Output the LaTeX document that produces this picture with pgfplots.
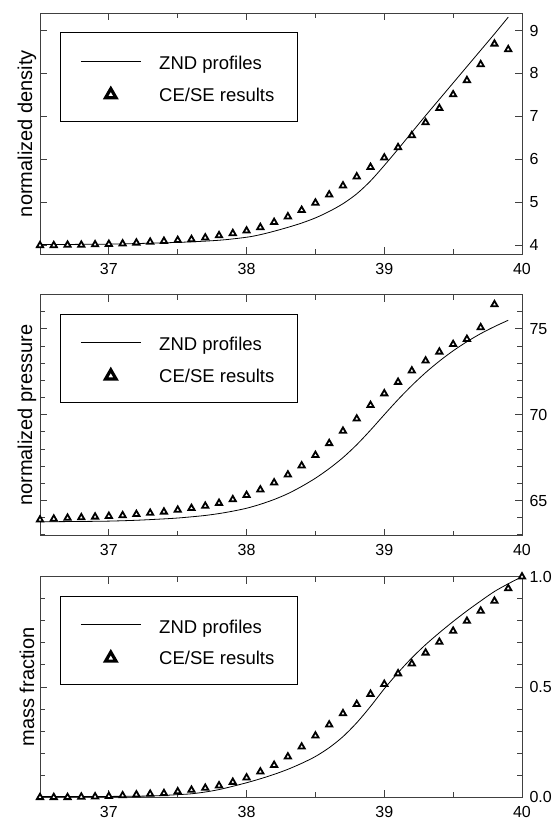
\documentclass[border=0pt]{standalone}
\usepackage{fontspec}
\setmainfont{Liberation Sans}
\usepackage{pgfplots}
\pgfplotsset{compat=1.18}

% shared look of the three stacked panels
\pgfplotsset{
  panel/.style={
    scale only axis, width=482pt, anchor=north west,
    xmin=36.5, xmax=40,
    xtick={37,38,39,40}, minor xtick={37.5,38.5,39.5},
    yticklabel pos=right, ytick pos=both, xtick pos=both,
    tick align=inside,
    major tick length=7pt, minor tick length=5pt,
    axis line style={black!75, line width=0.9pt},
    every tick/.style={black!75, line width=0.9pt},
    tick label style={font=\fontsize{16}{18}\selectfont},
    /pgf/number format/assume math mode=true,
    xticklabel style={yshift=-5.5pt},
    yticklabel style={xshift=4pt},
    ylabel style={font=\fontsize{20}{22}\selectfont,
      at={(axis description cs:-0.027,0.5)}, anchor=center},
    legend cell align=left,
    legend style={at={(axis description cs:0,1)}, anchor=north west,
      xshift=20pt, yshift=-19pt, draw=black, line width=0.8pt, fill=white,
      inner xsep=20pt, inner ysep=20pt, row sep=18.3pt, column sep=18pt,
      nodes={inner sep=0pt, text depth=0pt},
      font=\fontsize{18.5}{20}\selectfont},
  },
  znd/.style={black, line width=0.8pt, smooth, no marks,
    legend image code/.code={\draw[##1] (0pt,0pt) -- (60pt,0pt);}},
  cese/.style={only marks, mark=triangle*, mark size=3.6pt,
    mark options={fill=white, draw=black, line width=1.8pt},
    legend image code/.code={\draw[##1]
      plot[mark=triangle*, mark size=6pt,
      mark options={fill=white, draw=black, line width=3.2pt}]
      coordinates {(30pt,0pt)};}},
}

\begin{document}
\begin{tikzpicture}
\useasboundingbox (0,0) rectangle (559pt,-820pt);

% density
\begin{axis}[panel, at={(40pt,-13.3pt)}, height=240.7pt,
  ymin=3.8, ymax=9.4, ytick={4,5,6,7,8,9},
  ylabel={normalized density}]
\addplot[znd] coordinates {
(36.5,4.02) (37.0,4.03) (37.5,4.07) (37.8,4.12) (38.0,4.19) (38.1,4.25)
(38.2,4.33) (38.3,4.42) (38.4,4.52) (38.5,4.64) (38.6,4.79) (38.7,4.97)
(38.8,5.2) (38.9,5.5) (39.0,5.86) (39.1,6.24) (39.2,6.63) (39.3,7.02)
(39.4,7.4) (39.5,7.78) (39.6,8.16) (39.7,8.54) (39.8,8.92) (39.9,9.31)};
\addlegendentry{\makebox[118pt][l]{\rule[-5pt]{0pt}{22pt}ZND profiles}}
\addplot[cese] coordinates {
(36.5,4.00) (36.6,4.00) (36.7,4.01) (36.8,4.01) (36.9,4.02) (37.0,4.03)
(37.1,4.04) (37.2,4.06) (37.3,4.08) (37.4,4.10) (37.5,4.12) (37.6,4.14)
(37.7,4.18) (37.8,4.23) (37.9,4.28) (38.0,4.34) (38.1,4.42) (38.2,4.54)
(38.3,4.67) (38.4,4.82) (38.5,4.99) (38.6,5.18) (38.7,5.39) (38.8,5.60)
(38.9,5.82) (39.0,6.04) (39.1,6.28) (39.2,6.56) (39.3,6.86) (39.4,7.19)
(39.5,7.51) (39.6,7.84) (39.7,8.21) (39.8,8.69) (39.9,8.56)};
\addlegendentry{\makebox[118pt][l]{\rule[-1pt]{0pt}{14pt}CE/SE results}}
\end{axis}

% pressure
\begin{axis}[panel, at={(40pt,-294.5pt)}, height=241.2pt,
  ymin=62.95, ymax=77, ytick={65,70,75},
  minor ytick={63,64,66,67,68,69,71,72,73,74,76,77},
  ylabel={normalized pressure}]
\addplot[znd] coordinates {
(36.5,63.76) (36.8,63.78) (37.0,63.8) (37.2,63.85) (37.4,63.93) (37.5,63.98)
(37.6,64.05) (37.7,64.13) (37.8,64.24) (37.9,64.38) (38.0,64.55) (38.1,64.78)
(38.2,65.06) (38.3,65.4) (38.4,65.82) (38.5,66.3) (38.6,66.86) (38.7,67.5)
(38.8,68.25) (38.9,69.1) (39.0,70.0) (39.1,70.88) (39.2,71.7) (39.3,72.45)
(39.4,73.12) (39.5,73.72) (39.6,74.25) (39.7,74.72) (39.8,75.13) (39.9,75.5)};
\addlegendentry{\makebox[118pt][l]{\rule[-5pt]{0pt}{22pt}ZND profiles}}
\addplot[cese] coordinates {
(36.5,63.88) (36.6,63.93) (36.7,63.98) (36.8,64.01) (36.9,64.05) (37.0,64.09)
(37.1,64.13) (37.2,64.2) (37.3,64.27) (37.4,64.34) (37.5,64.45) (37.6,64.55)
(37.7,64.68) (37.8,64.85) (37.9,65.06) (38.0,65.31) (38.1,65.63) (38.2,66.04)
(38.3,66.5) (38.4,67.03) (38.5,67.64) (38.6,68.33) (38.7,69.05) (38.8,69.76)
(38.9,70.55) (39.0,71.23) (39.1,71.9) (39.2,72.56) (39.3,73.14) (39.4,73.66)
(39.5,74.1) (39.6,74.4) (39.7,75.08) (39.8,76.42)};
\addlegendentry{\makebox[118pt][l]{\rule[-1pt]{0pt}{14pt}CE/SE results}}
\end{axis}

% mass fraction
\begin{axis}[panel, at={(40pt,-576.7pt)}, height=220.6pt,
  ymin=0, ymax=1, ytick={0,0.5,1}, yticklabels={0.0,0.5,1.0},
  minor ytick={0.1,0.2,0.3,0.4,0.6,0.7,0.8,0.9},
  ylabel={mass fraction}]
\addplot[znd] coordinates {
(36.5,0.003) (37.0,0.004) (37.3,0.006) (37.5,0.012) (37.6,0.016) (37.7,0.024)
(37.8,0.035) (37.9,0.05) (38.0,0.066) (38.1,0.084) (38.2,0.104) (38.3,0.127)
(38.4,0.154) (38.5,0.185) (38.6,0.225) (38.7,0.275) (38.8,0.338) (38.9,0.412)
(39.0,0.492) (39.1,0.565) (39.2,0.632) (39.3,0.692) (39.4,0.746) (39.5,0.797)
(39.6,0.845) (39.7,0.89) (39.8,0.933) (39.9,0.968) (40.0,1.0)};
\addlegendentry{\makebox[118pt][l]{\rule[-5pt]{0pt}{22pt}ZND profiles}}
\addplot[cese] coordinates {
(36.5,0.0) (36.6,0.0) (36.7,0.0) (36.8,0.002) (36.9,0.003) (37.0,0.005)
(37.1,0.008) (37.2,0.012) (37.3,0.015) (37.4,0.018) (37.5,0.026) (37.6,0.033)
(37.7,0.042) (37.8,0.053) (37.9,0.069) (38.0,0.089) (38.1,0.116) (38.2,0.146)
(38.3,0.184) (38.4,0.229) (38.5,0.279) (38.6,0.329) (38.7,0.38) (38.8,0.422)
(38.9,0.468) (39.0,0.513) (39.1,0.561) (39.2,0.606) (39.3,0.655) (39.4,0.704)
(39.5,0.754) (39.6,0.799) (39.7,0.845) (39.8,0.89) (39.9,0.947) (40.0,1.0)};
\addlegendentry{\makebox[118pt][l]{\rule[-1pt]{0pt}{14pt}CE/SE results}}
\end{axis}
\end{tikzpicture}
\end{document}
